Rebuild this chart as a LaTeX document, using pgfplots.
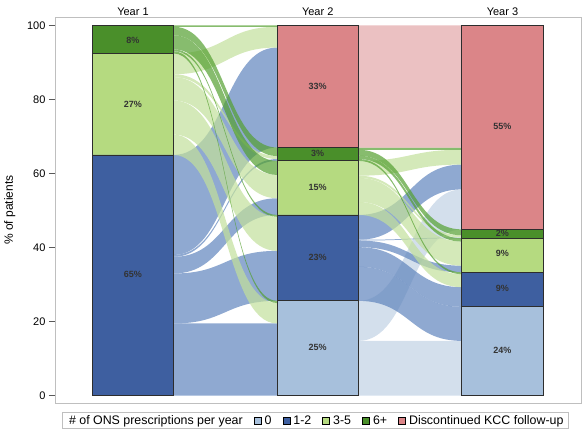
\documentclass[border=0pt]{standalone}
\usepackage{pgfplots}
\pgfplotsset{compat=1.18}
\usepackage{fontspec}
\setmainfont{Liberation Sans}

% bar colours
\definecolor{b0}{RGB}{167,192,220}
\definecolor{b12}{RGB}{62,95,160}
\definecolor{b35}{RGB}{181,218,128}
\definecolor{b6}{RGB}{74,143,42}
\definecolor{bd}{RGB}{219,133,136}
% flow colours (drawn at 70% opacity)
\definecolor{fl0}{RGB}{192,209,228}
\definecolor{fl12}{RGB}{95,132,189}
\definecolor{fl35}{RGB}{194,224,155}
\definecolor{fl6}{RGB}{84,160,48}
\definecolor{fld}{RGB}{226,166,168}
\definecolor{edge}{RGB}{45,45,45}

% one band: x0, x1, bottom at source, bottom at target, size, colour
\newcommand\flow[6]{%
  \pgfmathsetmacro\st{#3+#5}%
  \pgfmathsetmacro\dt{#4+#5}%
  \pgfmathsetmacro\xm{(#1+#2)/2}%
  \fill[#6, fill opacity=0.7] (axis cs:#1,#3) .. controls (axis cs:\xm,#3) and (axis cs:\xm,#4) .. (axis cs:#2,#4)
    -- (axis cs:#2,\dt) .. controls (axis cs:\xm,\dt) and (axis cs:\xm,\st) .. (axis cs:#1,\st) -- cycle;}

\begin{document}
\begin{tikzpicture}
\begin{axis}[
    scale only axis,
    width=526pt, height=386pt,
    xmin=0.578, xmax=3.425,
    ymin=-1.97, ymax=102.24,
    xtick={1,2,3},
    xticklabels={Year 1,Year 2,Year 3},
    xticklabel pos=upper,
    x tick style={draw=none},
    xticklabel style={yshift=-8pt},
    ytick={0,20,...,100},
    ytick pos=left,
    tick align=outside,
    major tick length=6pt,
    y tick style={gray!70!black, line width=0.6pt},
    axis line style={gray!50, line width=0.8pt},
    tick label style={font=\fontsize{11}{13}\selectfont},
    /pgf/number format/assume math mode=true,
    ylabel={\% of patients},
    ylabel shift=5pt,
    ylabel style={font=\fontsize{12}{14}\selectfont},
    legend style={
        at={(axis description cs:0.5,0)}, anchor=north,
        yshift=-9pt, xshift=-2.5pt,
        legend columns=-1,
        draw=gray!50,
        font=\fontsize{12.4}{14}\selectfont,
        /tikz/every even column/.append style={column sep=9pt},
        /tikz/every odd column/.append style={column sep=1.5pt},
        inner ysep=1pt,
    },
]

\addlegendimage{empty legend}
\addlegendentry{\# of ONS prescriptions per year}
\addlegendimage{legend image code/.code={\draw[fill=b0,draw=black] (0pt,-3.5pt) rectangle (7pt,3.5pt);}}
\addlegendentry{0}
\addlegendimage{legend image code/.code={\draw[fill=b12,draw=black] (0pt,-3.5pt) rectangle (7pt,3.5pt);}}
\addlegendentry{1-2}
\addlegendimage{legend image code/.code={\draw[fill=b35,draw=black] (0pt,-3.5pt) rectangle (7pt,3.5pt);}}
\addlegendentry{3-5}
\addlegendimage{legend image code/.code={\draw[fill=b6,draw=black] (0pt,-3.5pt) rectangle (7pt,3.5pt);}}
\addlegendentry{6+}
\addlegendimage{legend image code/.code={\draw[fill=bd,draw=black] (0pt,-3.5pt) rectangle (7pt,3.5pt);}}
\addlegendentry{Discontinued KCC follow-up}

% flows between the years
\pgfplotsextra{
  % year 1 -> year 2
  \flow{1.22}{1.78}{0}{0}{19.5}{fl12}
  \flow{1.22}{1.78}{19.5}{25.6}{13.5}{fl12}
  \flow{1.22}{1.78}{33}{48.8}{4.5}{fl12}
  \flow{1.22}{1.78}{37.5}{63.4}{0.5}{fl12}
  \flow{1.22}{1.78}{38}{67}{27}{fl12}
  \flow{1.22}{1.78}{65}{19.5}{5.5}{fl35}
  \flow{1.22}{1.78}{70.5}{39.1}{9.2}{fl35}
  \flow{1.22}{1.78}{79.7}{53.3}{6.3}{fl35}
  \flow{1.22}{1.78}{86}{63.9}{0.8}{fl35}
  \flow{1.22}{1.78}{86.8}{94}{5.6}{fl35}
  \flow{1.22}{1.78}{92.4}{25}{0.6}{fl6}
  \flow{1.22}{1.78}{93}{48.3}{0.5}{fl6}
  \flow{1.22}{1.78}{93.5}{59.6}{3.8}{fl6}
  \flow{1.22}{1.78}{97.3}{64.7}{2.3}{fl6}
  \flow{1.22}{1.78}{99.6}{99.6}{0.4}{fl6}
  % year 2 -> year 3
  \flow{2.22}{2.78}{0}{0}{14.8}{fl0}
  \flow{2.22}{2.78}{14.8}{44.9}{10.8}{fl0}
  \flow{2.22}{2.78}{25.6}{14.8}{9.2}{fl12}
  \flow{2.22}{2.78}{34.8}{24}{5.3}{fl12}
  \flow{2.22}{2.78}{40.1}{33.3}{1.8}{fl12}
  \flow{2.22}{2.78}{41.9}{42.5}{0.2}{fl12}
  \flow{2.22}{2.78}{42.1}{55.7}{6.7}{fl12}
  \flow{2.22}{2.78}{48.8}{29.3}{3.5}{fl35}
  \flow{2.22}{2.78}{52.3}{35.1}{6.5}{fl35}
  \flow{2.22}{2.78}{58.8}{42.7}{0.6}{fl35}
  \flow{2.22}{2.78}{59.4}{62.4}{4.0}{fl35}
  \flow{2.22}{2.78}{63.4}{32.8}{0.5}{fl6}
  \flow{2.22}{2.78}{63.9}{41.6}{0.9}{fl6}
  \flow{2.22}{2.78}{64.8}{43.3}{1.6}{fl6}
  \flow{2.22}{2.78}{66.4}{66.4}{0.6}{fl6}
  \flow{2.22}{2.78}{67}{67}{33}{fld}
}

% stacked segments, drawn from the top of the stack down
\addplot[ybar, bar width=0.44, bar shift=0pt, fill=bd, draw=edge, line width=0.8pt, forget plot]
  coordinates {(2,100) (3,100)};
\addplot[ybar, bar width=0.44, bar shift=0pt, fill=b6, draw=edge, line width=0.8pt, forget plot]
  coordinates {(1,100) (2,67) (3,44.9)};
\addplot[ybar, bar width=0.44, bar shift=0pt, fill=b35, draw=edge, line width=0.8pt, forget plot]
  coordinates {(1,92.4) (2,63.4) (3,42.5)};
\addplot[ybar, bar width=0.44, bar shift=0pt, fill=b12, draw=edge, line width=0.8pt, forget plot]
  coordinates {(1,65) (2,48.8) (3,33.3)};
\addplot[ybar, bar width=0.44, bar shift=0pt, fill=b0, draw=edge, line width=0.8pt, forget plot]
  coordinates {(2,25.6) (3,24.0)};

% segment labels
\addplot[draw=none, mark=none, forget plot,
    nodes near coords, point meta=explicit symbolic,
    every node near coord/.append style={anchor=center, font=\fontsize{9}{10}\selectfont\bfseries, text=black!80}]
  coordinates {(1,32.8)[65\%] (1,78.7)[27\%] (1,96.0)[8\%]
               (2,13.0)[25\%] (2,37.4)[23\%] (2,56.3)[15\%] (2,65.3)[3\%] (2,83.5)[33\%]
               (3,12.1)[24\%] (3,28.9)[9\%] (3,38.3)[9\%] (3,43.8)[2\%] (3,72.6)[55\%]};

\end{axis}
\pgfresetboundingbox
\path[use as bounding box] ([shift={(-55pt,-28pt)}]current axis.south west) rectangle ([shift={(2pt,17pt)}]current axis.north east);
\end{tikzpicture}
\end{document}
